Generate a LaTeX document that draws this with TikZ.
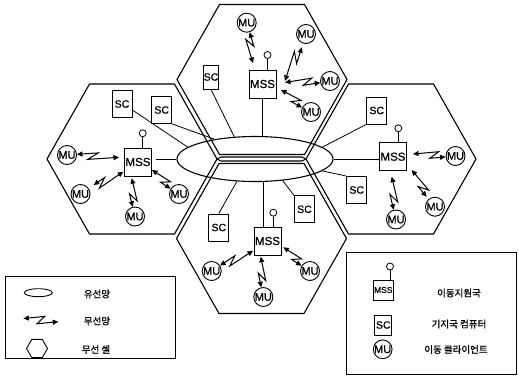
\documentclass[tikz,border=0pt]{standalone}
\usepackage{fontspec}
\setmainfont{Liberation Sans}
\newfontfamily\lab[FakeBold=0.8]{Liberation Sans}
\newfontfamily\cjk[FakeBold=1.2]{Noto Sans CJK KR}
\usetikzlibrary{shapes.geometric,arrows.meta,calc}
\begin{document}
\begin{tikzpicture}[x=1pt,y=-1pt,
  cellline/.style={line width=1.1pt},
  hexcell/.pic={\draw[cellline] (-85,0) -- (-42.5,-75) -- (42.5,-75) -- (85,0) -- (42.5,75) -- (-42.5,75) -- cycle;},
  mss/.style={draw,line width=0.9pt,minimum width=27pt,minimum height=28pt,inner sep=0pt,font=\lab\fontsize{11.5}{11.5}\selectfont},
  scbox/.style={draw,line width=0.9pt,minimum width=20pt,minimum height=27pt,inner sep=0pt,font=\lab\fontsize{10.5}{10.5}\selectfont},
  mu/.style={draw,circle,line width=0.9pt,minimum size=19pt,inner sep=0pt,font=\lab\fontsize{11}{11}\selectfont},
  ant/.style={draw,circle,line width=0.8pt,minimum size=7pt,inner sep=0pt},
  wire/.style={line width=0.8pt},
  zig/.store in=\zigamp, zig=3.5pt,
  bolt/.style={line width=1pt,{Triangle[length=5.5pt,width=5pt]}-{Triangle[length=5.5pt,width=5pt]},
    to path={-- ($(\tikztostart)!0.6!(\tikztotarget)!\zigamp!90:(\tikztotarget)$) -- ($(\tikztostart)!0.4!(\tikztotarget)!\zigamp!-90:(\tikztotarget)$) -- (\tikztotarget) \tikztonodes}},
  kor/.style={font=\cjk\fontsize{9.5}{9.5}\selectfont}
]
\useasboundingbox (0,0) rectangle (519,381);

% cells
\pic at (262,79.5) {hexcell};
\pic at (132,159) {hexcell};
\pic at (391,159) {hexcell};
\pic at (261.5,238.5) {hexcell};
\draw[cellline] (217,159) -- (221,157) -- (302,157) -- (306,159) -- (302,161) -- (221,161) -- cycle;

% wired network
\node[draw,ellipse,line width=1.1pt,minimum width=156pt,minimum height=45pt,inner sep=0pt] (net) at (255,159) {};

% MSS
\node[mss] (tM) at (262.5,84) {MSS};
\node[mss] (lM) at (138,162) {MSS};
\node[mss] (rM) at (393,156.7) {MSS};
\node[mss] (bM) at (267.5,241) {MSS};

\node[ant] (tA) at (267.5,55) {};
\node[ant] (lA) at (142.7,133.3) {};
\node[ant] (rA) at (398.3,128.3) {};
\node[ant] (bA) at (273.3,212.7) {};
\draw[wire] (tA.south) -- (tA.south |- tM.north);
\draw[wire] (lA.south) -- (lA.south |- lM.north);
\draw[wire] (rA.south) -- (rA.south |- rM.north);
\draw[wire] (bA.south) -- (bA.south |- bM.north);

% SC
\node[scbox,minimum width=15pt,minimum height=24pt] (tSC) at (211,77) {SC};
\node[scbox] (lSC1) at (122,104) {SC};
\node[scbox] (lSC2) at (161.7,110) {SC};
\node[scbox] (rSC1) at (376.7,110.5) {SC};
\node[scbox] (rSC2) at (356.7,190) {SC};
\node[scbox] (bSC1) at (218.8,227.5) {SC};
\node[scbox] (bSC2) at (304.5,209.3) {SC};

% wires to network
\draw[wire] (tSC.south) -- (net.133);
\draw[wire] (tM.south) -- (tM.south |- net.north);
\draw[wire] (lSC1.-30) -- (net.170);
\draw[wire] (lSC2.south east) -- (net.154);
\draw[wire,shorten >=4pt] (net.west) -- (lM.east |- net.west);
\draw[wire] (net.east) -- (rM.west |- net.east);
\draw[wire] (rSC1.south west) -- (net.10);
\draw[wire] (rSC2.north west) -- (net.-10);
\draw[wire] (bSC1.north) -- (net.231);
\draw[wire] (bSC2.north west) -- (net.-38);
\coordinate (bMt) at ($(bM.north)+(-4.5,0)$);
\draw[wire] (bMt) -- (bMt |- net.south);

% MU
\node[mu] (tMU1) at (246.7,22.7) {MU};
\node[mu] (tMU2) at (306,34) {MU};
\node[mu] (tMU3) at (330,81) {MU};
\node[mu] (tMU4) at (311,112) {MU};
\node[mu] (lMU1) at (67,155) {MU};
\node[mu] (lMU2) at (80.5,194) {MU};
\node[mu] (lMU3) at (135,216.5) {MU};
\node[mu] (lMU4) at (179,194) {MU};
\node[mu] (rMU1) at (455.5,156) {MU};
\node[mu] (rMU2) at (435,206.7) {MU};
\node[mu] (rMU3) at (396,219.5) {MU};
\node[mu] (bMU1) at (211.7,271) {MU};
\node[mu] (bMU2) at (263.3,297) {MU};
\node[mu] (bMU3) at (310,271) {MU};

% radio links
\coordinate (t1) at (253,63);
\coordinate (t2) at (285,81);
\coordinate (t3) at (285,82.5);
\coordinate (t4) at (281,90);
\coordinate (l1) at (119,157.3);
\coordinate (l2) at (123.3,171.7);
\coordinate (l3) at (131.7,178.3);
\coordinate (l4) at (152,170);
\coordinate (r1) at (413,154);
\coordinate (r2) at (411.7,170);
\coordinate (r3) at (391.7,176.7);
\coordinate (b1) at (253,250.7);
\coordinate (b2) at (260.7,256.7);
\coordinate (b3) at (283.3,247.3);
\draw[bolt] (tMU1) to (t1);
\draw[bolt,shorten <=4pt] (tMU2) to (t2);
\draw[bolt] (tMU3) to (t3);
\draw[bolt] (tMU4) to (t4);
\draw[bolt] (lMU1) to (l1);
\draw[bolt,shorten <=6pt] (lMU2) to (l2);
\draw[bolt] (lMU3) to (l3);
\draw[bolt] (lMU4) to (l4);
\draw[bolt] (rMU1) to (r1);
\draw[bolt,shorten <=3pt] (rMU2) to (r2);
\draw[bolt] (rMU3) to (r3);
\draw[bolt] (bMU1) to (b1);
\draw[bolt] (bMU2) to (b2);
\draw[bolt] (bMU3) to (b3);

% legend left
\node[draw,line width=0.9pt,minimum width=170pt,minimum height=82pt,inner sep=0pt] (legL) at (90,317) {};
\node[draw,ellipse,minimum width=28pt,minimum height=8pt,inner sep=0pt,line width=0.9pt] (lgE) at (38.3,292.7) {};
\node[kor] (lgT1) at (97,294) {유선망};
\coordinate (lgB1) at (23.3,318.5);
\coordinate (lgB2) at (58.3,321.7);
\draw[bolt,zig=4pt] (lgB1) to (lgB2);
\node[kor] (lgT2) at (97,321) {무선망};
\node[draw,regular polygon,regular polygon sides=6,minimum size=21pt,inner sep=0pt,line width=0.9pt] (lgH) at (37,348.5) {};
\node[kor] (lgT3) at (96,349.5) {무선 셀};

% legend right
\node[draw,line width=0.9pt,minimum width=170pt,minimum height=122pt,inner sep=0pt] (legR) at (431,313) {};
\node[ant] (lgA) at (390,266.5) {};
\node[mss,minimum width=20pt,minimum height=20pt,font=\lab\fontsize{8.5}{8.5}\selectfont] (lgM) at (383.3,290) {MSS};
\draw[wire] (lgA.south) -- (lgA.south |- lgM.north);
\node[kor] (lgT4) at (459,293) {이동지원국};
\node[scbox,minimum width=17pt,minimum height=20pt] (lgS) at (383.3,325) {SC};
\node[kor] (lgT5) at (459,324) {기지국 컴퓨터};
\node[mu,minimum size=18pt] (lgU) at (382.7,349.3) {MU};
\node[kor] (lgT6) at (456,349.5) {이동 클라이언트};
\end{tikzpicture}
\end{document}
